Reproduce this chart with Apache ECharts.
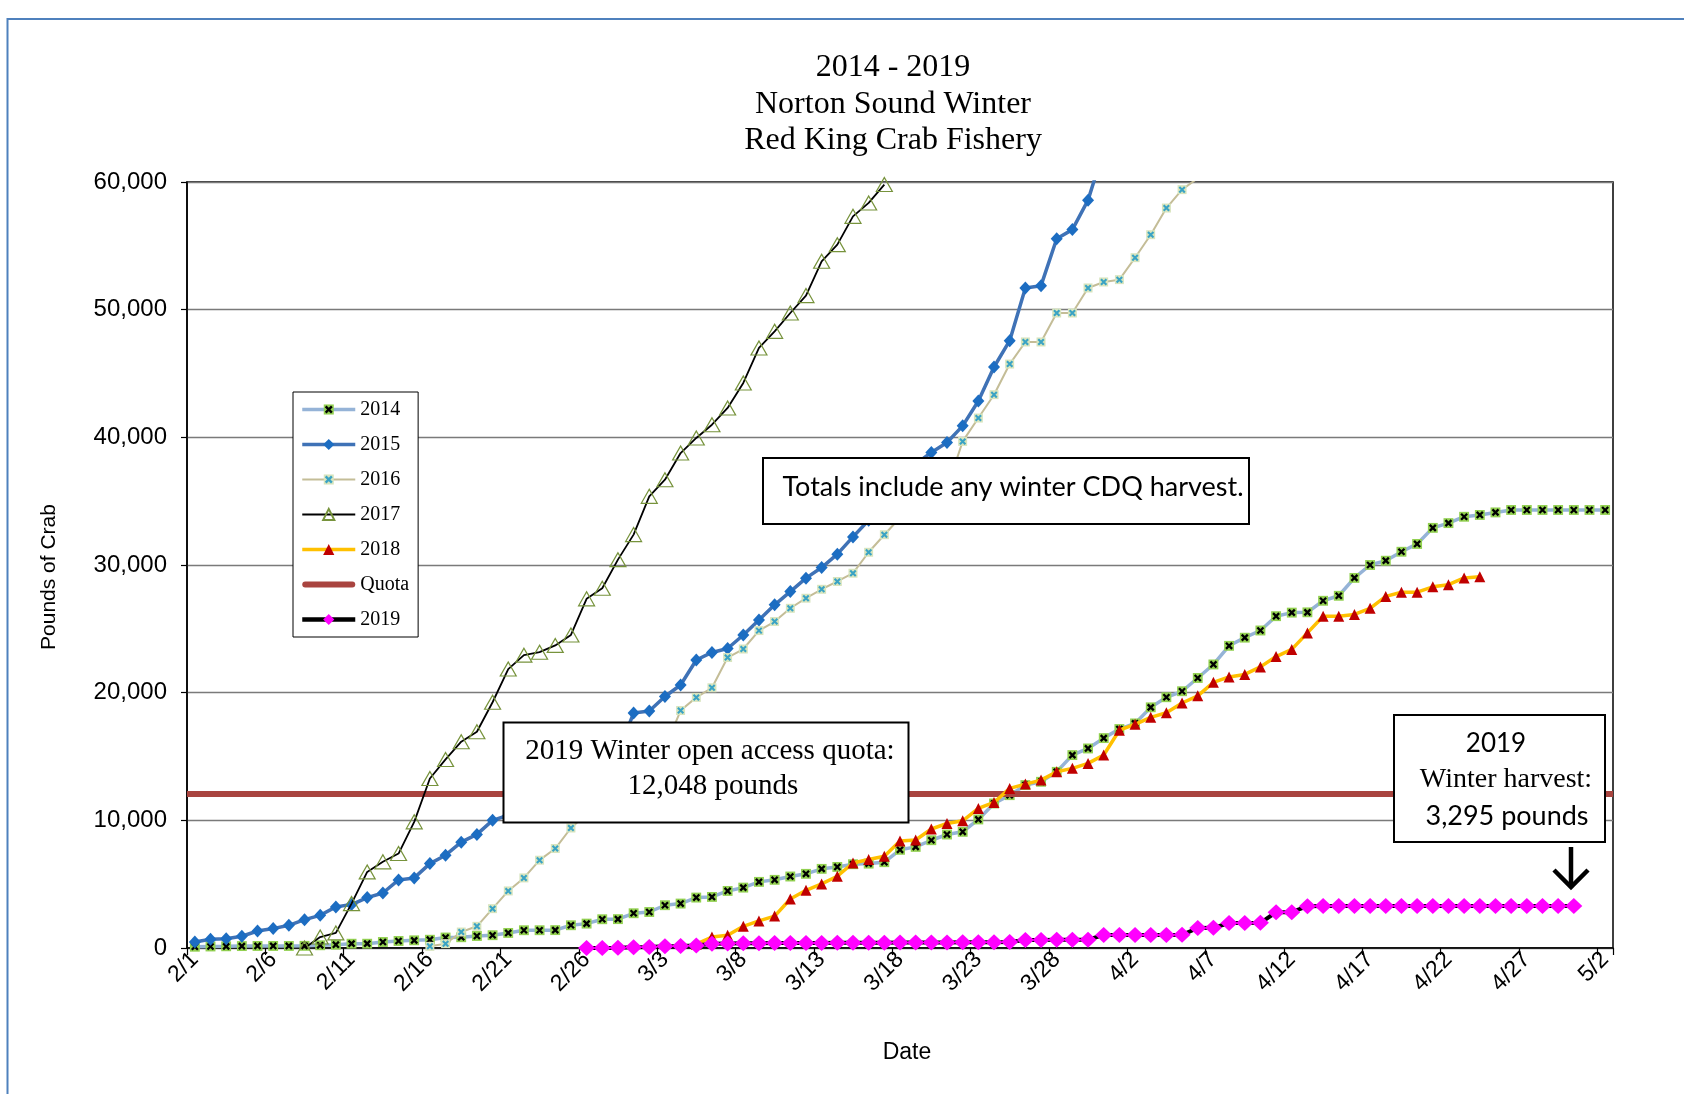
<!DOCTYPE html>
<html><head><meta charset="utf-8">
<script src="https://cdn.jsdelivr.net/npm/echarts@6/dist/echarts.min.js"></script>
<style>html,body{margin:0;padding:0;background:#fff}#chart{width:1684px;height:1094px}</style>
</head><body><div id="chart"></div>
<script>
// ---- categories (one per day, 2/1 .. 5/2) ----
const dates = [
 "2/1","2/2","2/3","2/4","2/5","2/6","2/7","2/8","2/9","2/10","2/11","2/12","2/13","2/14","2/15","2/16","2/17","2/18","2/19","2/20","2/21","2/22","2/23","2/24","2/25","2/26","2/27","2/28",
 "3/1","3/2","3/3","3/4","3/5","3/6","3/7","3/8","3/9","3/10","3/11","3/12","3/13","3/14","3/15","3/16","3/17","3/18","3/19","3/20","3/21","3/22","3/23","3/24","3/25","3/26","3/27","3/28","3/29","3/30","3/31",
 "4/1","4/2","4/3","4/4","4/5","4/6","4/7","4/8","4/9","4/10","4/11","4/12","4/13","4/14","4/15","4/16","4/17","4/18","4/19","4/20","4/21","4/22","4/23","4/24","4/25","4/26","4/27","4/28","4/29","4/30",
 "5/1","5/2"];
const yTicks = [0, 10000, 20000, 30000, 40000, 50000, 60000];

// ---- series values (pounds), each begins at the given day index ----
const start2014 = 0;
const pounds2014 = [100,120,130,150,160,160,160,170,210,260,
 340,340,470,550,600,650,820,840,940,1000,
 1180,1390,1390,1400,1780,1910,2250,2260,2720,2820,
 3350,3480,3950,4000,4470,4730,5180,5340,5600,5810,
 6200,6350,6560,6610,6720,7690,7920,8440,8890,9100,
 10070,11320,11970,12760,13020,13800,15110,15630,16440,17150,
 17590,18850,19640,20110,21150,22210,23670,24310,24870,25990,
 26270,26290,27200,27590,28990,30000,30340,31040,31650,32910,
 33280,33780,33920,34120,34310,34310,34310,34310,34310,34310,34310];
const start2015 = 0;
const pounds2015 = [470,680,730,920,1330,1520,1780,2220,2560,3220,
 3400,3950,4310,5330,5490,6610,7270,8290,8900,10000,
 10400,11000,11600,12300,13100,13800,14600,15300,18400,18570,
 19700,20600,22560,23150,23460,24520,25700,26880,27920,28970,
 29800,30850,32200,33500,35000,36500,37900,38820,39600,40900,
 42850,45510,47570,51700,51880,55560,56270,58580,62500];
const start2016 = 15;
const pounds2016 = [130,340,1250,1700,3080,4470,5490,6880,7790,9400,
 10500,11600,12700,13700,14700,15700,18600,19630,20380,22750,
 23420,24860,25570,26610,27400,28100,28710,29360,31000,32370,
 33700,34500,35200,36000,39680,41510,43340,45740,47470,47470,
 49740,49740,51700,52170,52350,54070,55870,57960,59400,60300];
const start2017 = 7;
const pounds2017 = [0,860,1180,3480,5960,6750,7400,9880,13280,14770,
 16160,16940,19250,21850,22940,23170,23700,24520,27350,28180,
 30420,32380,35380,36680,38770,39950,40990,42300,44260,47000,
 48300,49740,51100,53790,55090,57310,58360,59800];
const start2018 = 32;
const pounds2018 = [300,860,1000,1700,2120,2500,3840,4520,5020,5620,
 6660,6930,7190,8380,8460,9320,9750,9960,10930,11400,
 12500,12840,13150,13800,14070,14460,15120,17060,17520,18070,
 18430,19190,19750,20810,21230,21430,22020,22830,23390,24680,
 25990,25990,26130,26610,27540,27870,27870,28290,28460,28990,
 29080];
const start2019 = 25;
const pounds2019 = [0,0,20,60,80,130,150,200,340,360,
 370,380,390,390,400,400,410,410,420,420,
 430,430,440,440,450,450,460,470,630,630,
 640,640,650,1020,1020,1020,1020,1020,1030,1570,
 1580,1960,1960,1970,2800,2810,3280,3295,3295,3295,
 3295,3295,3295,3295,3295,3295,3295,3295,3295,3295,
 3295,3295,3295,3295];
const quota2019 = 12048;

function pad(start, vals) { return new Array(start).fill(null).concat(vals); }
function svgSym(bg, fg) {
  const s = "<svg xmlns='http://www.w3.org/2000/svg' width='20' height='20' viewBox='0 0 20 20'>" +
    "<rect x='1' y='1' width='18' height='18' fill='" + bg + "'/>" +
    "<path d='M4.5 4.5L15.5 15.5M15.5 4.5L4.5 15.5' stroke='" + fg + "' stroke-width='4.2'/></svg>";
  return 'image://data:image/svg+xml;charset=utf-8,' + encodeURIComponent(s);
}
const serif = '"Liberation Serif", "Times New Roman", serif';
const sans = '"Liberation Sans", Arial, sans-serif';
const calib = 'Lato, "Open Sans", sans-serif';
const quotaColor = '#A9443F';

const chart = echarts.init(document.getElementById('chart'), null, {renderer: 'canvas'});
chart.setOption({
  animation: false,
  backgroundColor: '#fff',
  grid: {left: 187, top: 182, width: 1426, height: 766, show: true, borderColor: '#000', borderWidth: 1.5, backgroundColor: 'transparent', containLabel: false, outerBoundsMode: 'none'},
  xAxis: {
    type: 'category', data: dates, boundaryGap: true,
    name: 'Date', nameLocation: 'middle', nameGap: 93,
    nameTextStyle: {fontFamily: sans, fontSize: 23, color: '#000', padding: [0, 0, 0, 14]},
    axisLine: {show: true, lineStyle: {color: '#000', width: 1.5}},
    axisTick: {show: true, interval: 4, length: 7, lineStyle: {color: '#000', width: 1.2}},
    axisLabel: {interval: 4, rotate: 45, margin: 8, fontFamily: sans, fontSize: 23, color: '#000'},
    splitLine: {show: false}
  },
  yAxis: {
    type: 'value', min: yTicks[0], max: yTicks[yTicks.length - 1], interval: 10000,
    axisLine: {show: true, lineStyle: {color: '#000', width: 1.5}},
    axisTick: {show: true, length: 6, lineStyle: {color: '#000', width: 1.2}},
    axisLabel: {margin: 20, fontFamily: sans, fontSize: 24, color: '#000',
      formatter: v => v.toLocaleString('en-US')},
    splitLine: {show: true, lineStyle: {color: '#7a7a7a', width: 1.4}}
  },
  legend: {
    orient: 'vertical', left: 293, top: 392, itemWidth: 53, itemHeight: 14, itemGap: 15,
    padding: [7.5, 9, 7.5, 7], borderColor: '#000', borderWidth: 1, backgroundColor: '#fff',
    textStyle: {fontFamily: serif, fontSize: 20, color: '#000'},
    lineStyle: {width: 'inherit'},
    selectedMode: false, z: 20,
    data: [
      {name: '2014', lineStyle: {width: 3.5}},
      {name: '2015', lineStyle: {width: 3.5}},
      {name: '2016', lineStyle: {width: 2}},
      {name: '2017', lineStyle: {width: 1.8}},
      {name: '2018', lineStyle: {width: 3.5}},
      {name: 'Quota', icon: 'path://M3,0 H50 A3,3 0 0 1 50,6 H3 A3,3 0 0 1 3,0 Z'},
      {name: '2019', lineStyle: {width: 4.5}}]
  },
  series: [
    {name: '2014', type: 'line', data: pad(start2014, pounds2014), symbol: svgSym('#92D050', '#000'), symbolSize: 11, showAllSymbol: true,
      itemStyle: {color: '#92D050'}, lineStyle: {color: '#95B3D7', width: 3.5}, z: 2},
    {name: '2015', type: 'line', data: pad(start2015, pounds2015), symbol: 'diamond', symbolSize: [12, 13], showAllSymbol: true,
      itemStyle: {color: '#1C6DC2'}, lineStyle: {color: '#3F72B6', width: 3.5}, z: 3},
    {name: '2016', type: 'line', data: pad(start2016, pounds2016), symbol: svgSym('#D7E4BD', '#3AA3C4'), symbolSize: 10, showAllSymbol: true,
      itemStyle: {color: '#4BACC6'}, lineStyle: {color: '#C4BD97', width: 2}, z: 4},
    {name: '2017', type: 'line', data: pad(start2017, pounds2017), symbol: 'triangle', symbolSize: [16, 14], showAllSymbol: true,
      itemStyle: {color: 'rgba(255,255,255,0)', borderColor: '#77933C', borderWidth: 1.2},
      lineStyle: {color: '#000', width: 1.8}, z: 5},
    {name: '2018', type: 'line', data: pad(start2018, pounds2018), symbol: 'triangle', symbolSize: 11, showAllSymbol: true,
      itemStyle: {color: '#C00000'}, lineStyle: {color: '#FFC000', width: 3.5}, z: 6},
    {name: 'Quota', type: 'line', data: [], symbol: 'none', itemStyle: {color: quotaColor},
      lineStyle: {color: quotaColor, width: 6}, z: 7,
      markLine: {silent: true, symbol: ['none', 'none'], label: {show: false},
        lineStyle: {color: quotaColor, width: 6, type: 'solid'}, emphasis: {disabled: true},
        data: [{yAxis: quota2019}]}},
    {name: '2019', type: 'line', data: pad(start2019, pounds2019), symbol: 'diamond', symbolSize: [17, 16], showAllSymbol: true,
      itemStyle: {color: '#FF00FF'}, lineStyle: {color: '#000', width: 4}, z: 8}
  ],
  graphic: {elements: [
    {type: 'rect', z: 0, silent: true, shape: {x: 7.5, y: 19, width: 1700, height: 1100},
      style: {fill: null, stroke: '#4F81BD', lineWidth: 2}},
    {type: 'text', z: 50, x: 893, y: 68, style: {text: '2014 - 2019', font: '32px ' + serif, fill: '#000', textAlign: 'center', textVerticalAlign: 'middle'}},
    {type: 'text', z: 50, x: 893, y: 105, style: {text: 'Norton Sound Winter', font: '32px ' + serif, fill: '#000', textAlign: 'center', textVerticalAlign: 'middle'}},
    {type: 'text', z: 50, x: 893, y: 141, style: {text: 'Red King Crab Fishery', font: '32px ' + serif, fill: '#000', textAlign: 'center', textVerticalAlign: 'middle'}},
    {type: 'text', z: 50, x: 49, y: 577, rotation: Math.PI / 2, style: {text: 'Pounds of Crab', font: '21px ' + sans, fill: '#000', textAlign: 'center', textVerticalAlign: 'middle'}},
    {type: 'rect', z: 50, shape: {x: 763, y: 458, width: 486, height: 66}, style: {fill: '#fff', stroke: '#000', lineWidth: 2}},
    {type: 'text', z: 51, x: 1013, y: 487, style: {text: 'Totals include any winter CDQ harvest.', font: '27px ' + calib, fill: '#000', textAlign: 'center', textVerticalAlign: 'middle'}},
    {type: 'rect', z: 50, shape: {x: 503.5, y: 722.5, width: 405, height: 100}, style: {fill: '#fff', stroke: '#000', lineWidth: 2}},
    {type: 'text', z: 51, x: 710, y: 751, style: {text: '2019 Winter open access quota:', font: '29px ' + serif, fill: '#000', textAlign: 'center', textVerticalAlign: 'middle'}},
    {type: 'text', z: 51, x: 713, y: 786, style: {text: '12,048 pounds', font: '29px ' + serif, fill: '#000', textAlign: 'center', textVerticalAlign: 'middle'}},
    {type: 'rect', z: 50, shape: {x: 1394, y: 715, width: 211, height: 127}, style: {fill: '#fff', stroke: '#000', lineWidth: 2}},
    {type: 'text', z: 51, x: 1496, y: 744, style: {text: '2019', font: '26px ' + calib, fill: '#000', textAlign: 'center', textVerticalAlign: 'middle'}},
    {type: 'text', z: 51, x: 1506, y: 780, style: {text: 'Winter harvest:', font: '28px ' + serif, fill: '#000', textAlign: 'center', textVerticalAlign: 'middle'}},
    {type: 'text', z: 51, x: 1507, y: 816, style: {text: '3,295 pounds', font: '27px ' + calib, fill: '#000', textAlign: 'center', textVerticalAlign: 'middle'}},
    {type: 'line', z: 51, shape: {x1: 1571, y1: 847, x2: 1571, y2: 886}, style: {stroke: '#000', lineWidth: 4.5}},
    {type: 'polyline', z: 51, shape: {points: [[1554, 870], [1571, 887], [1588, 870]]}, style: {stroke: '#000', lineWidth: 4.5, fill: null}}
  ]}
});
</script>
</body></html>
